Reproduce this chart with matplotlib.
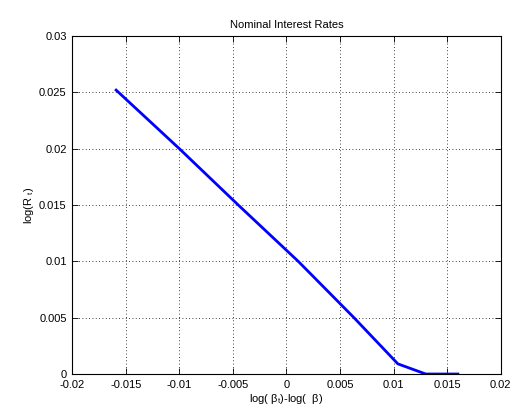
import matplotlib
matplotlib.use("Agg")
import matplotlib.pyplot as plt

plt.rcParams['font.family'] = ['Liberation Sans', 'DejaVu Sans']

# preference shock vs. nominal rate (zero lower bound binds on the right)
beta_dev = [-0.0159, -0.0100, -0.0045, 0.0011, 0.0063, 0.0104, 0.0130, 0.0160]
log_R = [0.0252, 0.0200, 0.0150, 0.0100, 0.0050, 0.0009, 0.0, 0.0]

x_ticks = [-0.02, -0.015, -0.01, -0.005, 0, 0.005, 0.01, 0.015, 0.02]
x_labels = ['-0.02', '-0.015', '-0.01', '-0.005', '0', '0.005', '0.01', '0.015', '0.02']
y_ticks = [0, 0.005, 0.01, 0.015, 0.02, 0.025, 0.03]
y_labels = ['0', '0.005', '0.01', '0.015', '0.02', '0.025', '0.03']

fig = plt.figure(figsize=(5.11, 4.11), dpi=100)
ax = fig.add_axes([0.1413, 0.090, 0.8386, 0.8224])

ax.plot(beta_dev, log_R, color='#0000ff', linewidth=2.0)

ax.set_xlim(-0.02, 0.02)
ax.set_ylim(0, 0.03)
ax.set_xticks(x_ticks)
ax.set_xticklabels(x_labels)
ax.set_yticks(y_ticks)
ax.set_yticklabels(y_labels)
ax.tick_params(direction='in', top=True, right=True, length=4, labelsize=8, width=0.6, pad=4)
ax.grid(True, color='black', linestyle=(0, (1, 3)), linewidth=0.6)
for s in ax.spines.values():
    s.set_linewidth(0.8)

ax.set_title('Nominal Interest Rates', fontsize=8, pad=6)
ax.set_xlabel(r'log( $\mathregular{\beta_t}$)-log(  $\mathregular{\beta}$)', fontsize=8, labelpad=2)
ax.set_ylabel(r'log(R $\mathregular{_t}$)', fontsize=8, labelpad=2)

fig.savefig('out.png', dpi=100)
